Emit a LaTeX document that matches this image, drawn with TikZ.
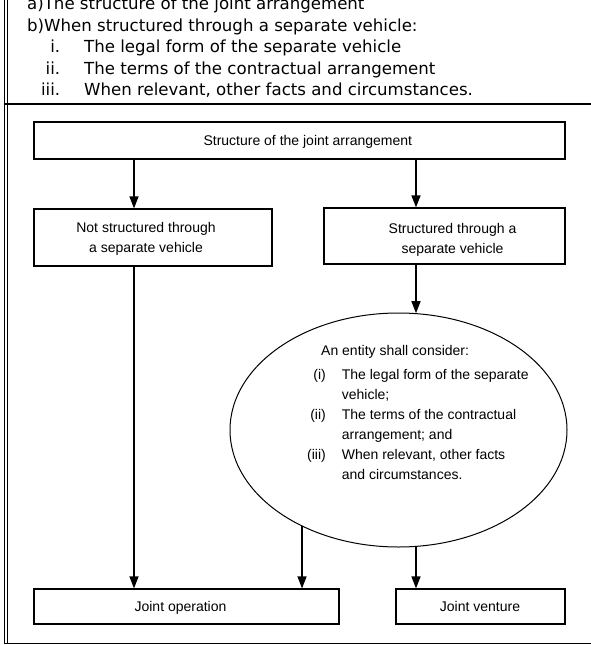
\documentclass[tikz,border=0pt]{standalone}
\usepackage{fontspec}
\setmainfont{Liberation Sans}
\newfontfamily\hdfont{DejaVu Sans}
\usetikzlibrary{shapes.geometric,arrows.meta}

% right-aligned list numeral followed by the indent of the item text
\newcommand\hdnum[1]{\makebox[33pt][r]{#1}\hspace*{24pt}}

\begin{document}
\begin{tikzpicture}[x=1pt,y=-1pt,
  box/.style={draw, rectangle, line width=1.2pt, inner sep=0pt},
  txt/.style={font=\fontsize{14}{20}\selectfont, align=center, inner sep=0pt},
  arr/.style={line width=1.3pt, -{Triangle[length=12pt,width=9pt]}},
  rule/.style={line width=1pt},
  oval/.style={draw, ellipse, line width=1pt, inner sep=0pt}]

\useasboundingbox (0,0) rectangle (591,645);

% page frame: double rule on the left, separator and bottom rule
\draw[rule] (4,0) -- (4,644);
\draw[rule] (7,0) -- (7,644);
\draw[line width=1.8pt] (4,104) -- (591,104);
\draw[line width=1.4pt] (4,643.5) -- (591,643.5);

% list of points above the chart
\node[anchor=north west, inner sep=0pt, font=\hdfont\fontsize{16.6}{21.5}\selectfont] (hdr) at (27,-5.5)
  {\begin{tabular}{@{}l@{}}
   a)The structure of the joint arrangement\\
   b)When structured through a separate vehicle:\\
   \hdnum{i.}The legal form of the separate vehicle\\
   \hdnum{ii.}The terms of the contractual arrangement\\
   \hdnum{iii.}When relevant, other facts and circumstances.
   \end{tabular}};

% boxes
\node[box, minimum width=531pt, minimum height=37pt] (top) at (299.5,140.5) {};
\node[txt, anchor=base] (toptxt) at (307.8,145) {Structure of the joint arrangement};

\node[box, minimum width=238pt, minimum height=57pt] (notsep) at (153,237.5) {};
\node[txt] (notseptxt) at (146,238.5) {Not structured through\\a separate vehicle};

\node[box, minimum width=241pt, minimum height=56pt] (sep) at (444.5,236) {};
\node[txt] (septxt) at (452.5,239.5) {Structured through a\\separate vehicle};

\node[box, minimum width=305pt, minimum height=35pt] (jo) at (186.5,606.5) {};
\node[txt, anchor=base] (jotxt) at (180.5,611) {Joint operation};

\node[box, minimum width=169pt, minimum height=35pt] (jv) at (480.5,606.5) {};
\node[txt, anchor=base] (jvtxt) at (480,611) {Joint venture};

% oval with the points to consider
\node[oval, minimum width=337pt, minimum height=234pt] (ell) at (398.5,430) {};
\node[anchor=north west, inner sep=0pt, font=\fontsize{14}{20}\selectfont] (cons) at (307,341.5)
  {\begin{tabular}{@{}r@{\hspace{16pt}}l@{}}
   \multicolumn{2}{@{}l@{}}{\hspace*{14pt}An entity shall consider:}\\[3.5pt]
   (i) & The legal form of the separate\\
       & vehicle;\\
   (ii) & The terms of the contractual\\
        & arrangement; and\\
   (iii) & When relevant, other facts\\
         & and circumstances.
   \end{tabular}};

% connector columns
\coordinate (lx) at (134,0);
\coordinate (rx) at (416,0);

\draw[arr] (top.south -| lx) -- (notsep.north -| lx);
\draw[arr] (top.south -| rx) -- (sep.north -| rx);
\draw[arr] (sep.south -| rx) -- (rx |- ell.81.45);
\draw[arr] (notsep.south -| lx) -- (jo.north -| lx);
\draw[arr] (ell.225.74) -- (ell.225.74 |- jo.north);
\draw[arr] (rx |- ell.278.55) -- (rx |- jv.north);
\end{tikzpicture}
\end{document}
